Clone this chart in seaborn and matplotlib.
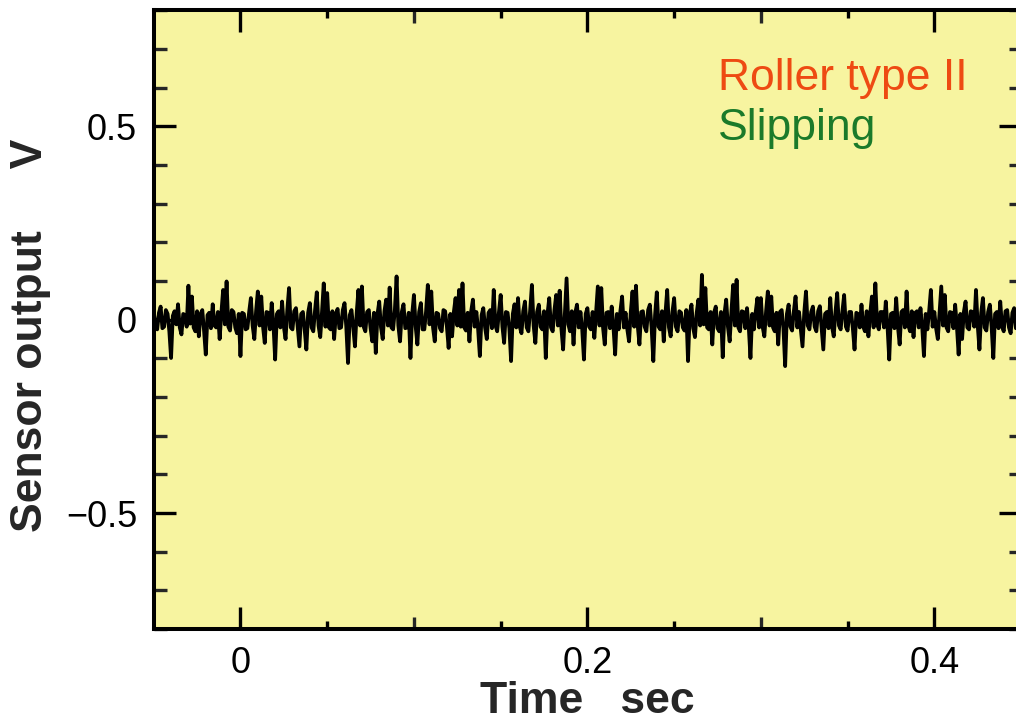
import numpy as np
import matplotlib
matplotlib.use("Agg")
import matplotlib.pyplot as plt
import seaborn as sns
from matplotlib.ticker import MultipleLocator, FixedLocator, NullFormatter

# Sensor trace, sampled every 1 ms starting at t = -0.05 s (volts)
t_start = -0.05
dt = 0.001
sensor_v = [
    0.020, -0.015, -0.025, 0.018, 0.034, -0.022, -0.018, 0.025, 0.015, -0.030,
    -0.099, 0.010, 0.022, -0.012, 0.040, -0.020, -0.038, 0.015, 0.012, -0.018,
    0.088, -0.010, 0.060, -0.020, -0.030, 0.022, -0.043, 0.015, 0.025, -0.028,
    -0.090, 0.012, 0.018, -0.022, 0.040, -0.015, -0.020, 0.020, -0.050, 0.018,
    0.077, -0.012, 0.099, -0.018, -0.028, 0.025, 0.020, -0.020, -0.035, 0.015,
    -0.094, 0.018, 0.015, -0.025, -0.022, 0.020, 0.056, -0.015, -0.050, 0.022,
    0.073, -0.015, 0.060, -0.018, -0.060, 0.020, 0.018, -0.025, 0.043, -0.012,
    -0.103, 0.015, 0.022, -0.020, 0.047, -0.018, -0.050, 0.025, 0.082, -0.020,
    -0.025, 0.022, 0.030, -0.018, -0.069, 0.015, 0.020, -0.025, -0.077, 0.018,
    0.043, -0.020, -0.030, 0.025, 0.071, -0.015, -0.045, 0.020, 0.094, -0.018,
    0.069, -0.020, -0.025, 0.022, -0.050, 0.015, 0.028, -0.022, -0.020, 0.025,
    0.043, -0.018, -0.112, 0.012, 0.025, -0.020, -0.069, 0.018, 0.077, -0.015,
    0.086, -0.018, -0.030, 0.020, 0.025, -0.022, -0.056, 0.018, -0.086, 0.015,
    0.047, -0.020, -0.050, 0.022, 0.052, -0.015, 0.083, -0.020, -0.025, 0.025,
    0.112, -0.015, -0.056, 0.020, 0.040, -0.022, -0.020, 0.018, -0.099, 0.015,
    0.064, -0.018, -0.064, 0.020, 0.043, -0.025, -0.025, 0.022, 0.090, -0.012,
    0.073, -0.020, -0.056, 0.018, 0.015, -0.022, -0.030, 0.025, 0.022, -0.018,
    -0.073, 0.015, -0.043, 0.020, 0.056, -0.015, 0.077, -0.018, 0.094, -0.020,
    -0.028, 0.018, -0.056, 0.022, 0.052, -0.018, 0.020, -0.025, -0.094, 0.012,
    0.030, -0.020, -0.050, 0.018, 0.025, -0.022, 0.077, -0.015, -0.030, 0.020,
    0.064, -0.018, -0.060, 0.020, 0.018, -0.022, -0.107, 0.015, 0.040, -0.020,
    0.056, -0.018, -0.035, 0.022, 0.047, -0.020, -0.030, 0.025, 0.090, -0.015,
    -0.060, 0.020, 0.039, -0.018, -0.025, 0.022, -0.099, 0.015, 0.056, -0.020,
    -0.030, 0.025, 0.064, -0.015, 0.075, -0.022, -0.077, 0.018, 0.107, -0.012,
    -0.030, 0.022, -0.064, 0.018, 0.039, -0.020, 0.020, -0.025, -0.103, 0.015,
    0.030, -0.018, -0.025, 0.020, -0.047, 0.018, 0.086, -0.015, 0.082, -0.020,
    -0.064, 0.018, 0.020, -0.022, 0.034, -0.018, -0.090, 0.015, -0.025, 0.022,
    0.060, -0.020, 0.018, -0.025, -0.056, 0.020, 0.073, -0.018, 0.088, -0.015,
    -0.064, 0.020, 0.022, -0.018, -0.030, 0.025, 0.039, -0.020, -0.107, 0.012,
    0.071, -0.018, -0.025, 0.022, -0.056, 0.018, 0.077, -0.020, -0.043, 0.020,
    0.056, -0.018, -0.030, 0.022, 0.018, -0.020, -0.028, 0.025, -0.107, 0.015,
    0.039, -0.022, -0.045, 0.018, 0.052, -0.015, 0.116, -0.012, 0.082, -0.020,
    -0.025, 0.020, -0.064, 0.018, 0.034, -0.022, -0.030, 0.020, -0.097, 0.015,
    0.052, -0.018, -0.056, 0.020, 0.090, -0.015, 0.103, -0.020, -0.030, 0.022,
    0.020, -0.022, 0.030, -0.018, -0.099, 0.015, -0.025, 0.020, 0.056, -0.020,
    0.056, -0.018, -0.043, 0.022, 0.073, -0.015, 0.060, -0.020, -0.030, 0.018,
    -0.064, 0.020, 0.025, -0.022, -0.120, 0.015, 0.039, -0.018, -0.028, 0.022,
    0.060, -0.020, 0.020, -0.025, -0.069, 0.018, 0.073, -0.015, -0.025, 0.020,
    0.034, -0.018, -0.030, 0.022, 0.035, -0.020, -0.077, 0.015, 0.020, -0.022,
    0.056, -0.018, -0.043, 0.020, 0.069, -0.015, -0.025, 0.022, 0.064, -0.018,
    -0.028, 0.020, 0.020, -0.022, -0.077, 0.018, 0.015, -0.020, 0.039, -0.018,
    -0.030, 0.022, -0.043, 0.015, 0.060, -0.020, 0.094, -0.012, -0.025, 0.020,
    0.020, -0.020, 0.047, -0.018, -0.103, 0.015, 0.018, -0.022, 0.056, -0.018,
    -0.064, 0.020, 0.025, -0.020, 0.073, -0.015, -0.030, 0.022, -0.045, 0.018,
    0.022, -0.020, 0.030, -0.018, -0.094, 0.015, -0.025, 0.022, 0.077, -0.018,
    0.020, -0.022, -0.050, 0.018, 0.086, -0.015, 0.064, -0.020, -0.030, 0.020,
    0.018, -0.022, 0.039, -0.018, -0.090, 0.015, -0.050, 0.020, 0.047, -0.020,
    -0.025, 0.022, 0.020, -0.018, 0.077, -0.015, -0.077, 0.018, 0.056, -0.020,
    -0.028, 0.020, 0.039, -0.018, -0.099, 0.015, 0.020, -0.022, 0.047, -0.018,
    -0.030, 0.022, 0.025, -0.020, -0.035, 0.018, 0.030, -0.022, -0.020, 0.018,
]
time_s = t_start + dt * np.arange(len(sensor_v))

x_limits = (-0.05, 0.45)
y_limits = (-0.8, 0.8)
x_major = [0.0, 0.2, 0.4]
x_minor = [0.1, 0.3]
x_fine = [0.05, 0.15, 0.25, 0.35]

title_lines = ["Roller type II", "Slipping"]
title_colors = ["#EE4A12", "#1B7A2A"]

sns.set_theme(style="ticks")
plt.rcParams["font.family"] = ["Liberation Sans", "DejaVu Sans"]

fig = plt.figure(figsize=(10.16, 7.18), dpi=100)
# the right spine sits just past the figure edge
ax = fig.add_axes([0.1513, 0.1240, 0.8537, 0.8614])
ax.set_facecolor("#F7F4A0")

sns.lineplot(x=time_s, y=sensor_v, ax=ax, color="black", linewidth=2.7,
             estimator=None)

ax.set_xlim(*x_limits)
ax.set_ylim(*y_limits)

ax.xaxis.set_major_locator(FixedLocator(x_major))
ax.xaxis.set_minor_locator(FixedLocator(x_minor))
ax.set_xticklabels(["0", "0.2", "0.4"])
ax.yaxis.set_major_locator(MultipleLocator(0.5))
ax.yaxis.set_minor_locator(MultipleLocator(0.1))
ax.set_yticks([-0.5, 0, 0.5])
ax.set_yticklabels(["\u22120.5", "0", "0.5"])

ax.tick_params(which="major", direction="in", length=15.5, width=2.4,
               top=True, right=True, labelsize=26, pad=12, colors="black")
ax.tick_params(which="minor", direction="in", length=9.0, width=2.4,
               top=True, right=True)

# extra short ticks every 0.05 s on the top and bottom edges
for side in ("bottom", "top"):
    sec = ax.secondary_xaxis(side)
    sec.set_xticks(x_fine)
    sec.xaxis.set_major_formatter(NullFormatter())
    sec.tick_params(direction="in", length=5.5, width=2.4, colors="black")
    for sp in sec.spines.values():
        sp.set_visible(False)

for sp in ax.spines.values():
    sp.set_linewidth(2.9)
    sp.set_color("black")

ax.set_xlabel("Time   sec", fontsize=32, fontweight="bold", labelpad=0)
ax.set_ylabel("Sensor output     V", fontsize=32, fontweight="bold")
ax.yaxis.set_label_coords(-0.118, 0.475)

for k, (txt, col) in enumerate(zip(title_lines, title_colors)):
    ax.text(0.651, 0.8715 - 0.081 * k, txt, transform=ax.transAxes,
            color=col, fontsize=32, ha="left", va="baseline")

fig.savefig("out.png", dpi=100)
